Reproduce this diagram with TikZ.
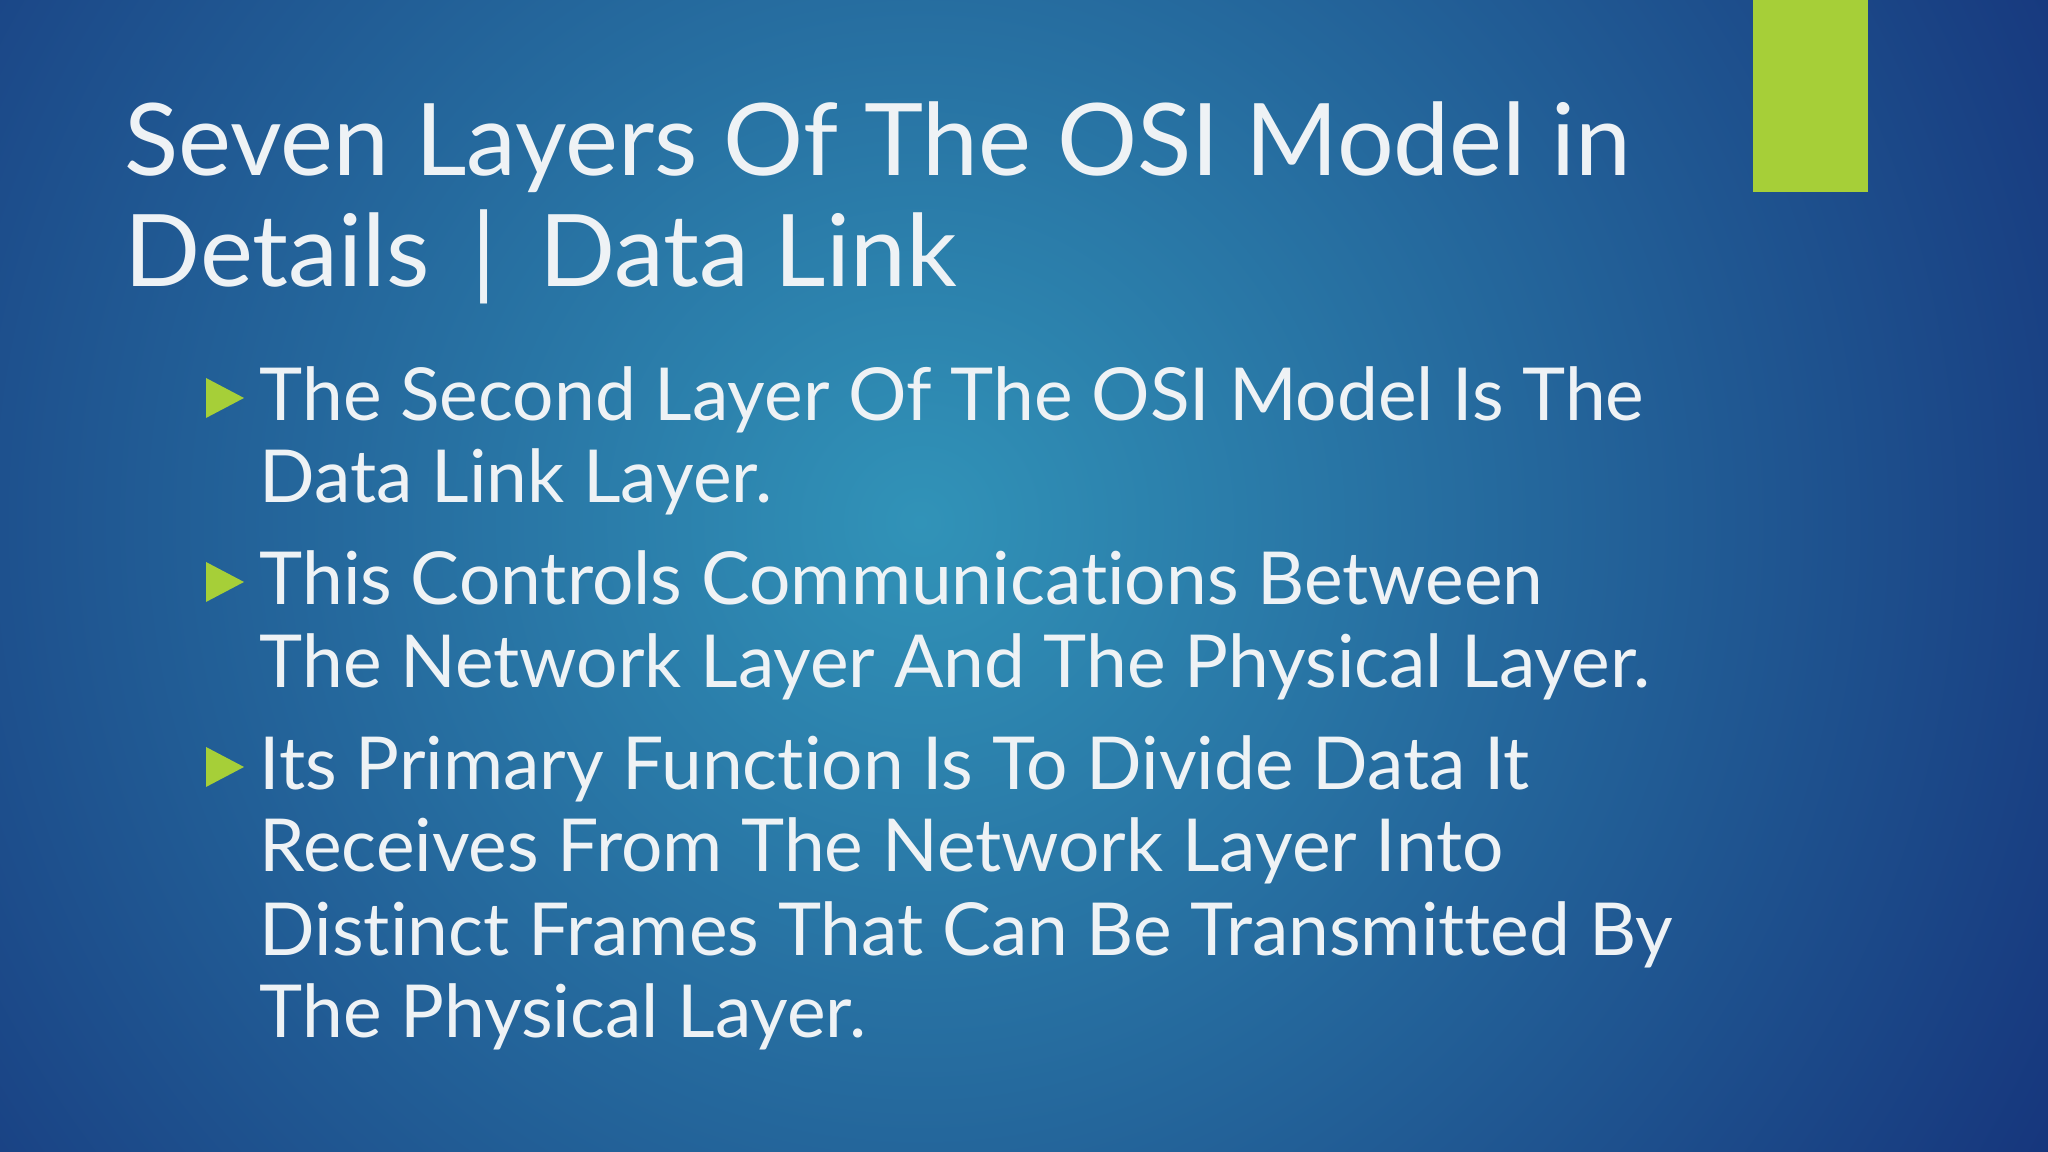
\documentclass[tikz,border=0pt]{standalone}
\usepackage{fontspec}
\setmainfont{Lato}[Ligatures={NoCommon}]
\definecolor{bgin}{HTML}{3193B8}
\definecolor{bgout}{HTML}{15327A}
\definecolor{accent}{HTML}{A6CF38}
\definecolor{txt}{HTML}{EEF2F5}
\tikzset{
  title/.style={anchor=base west,text=txt,font=\fontsize{28.5}{34}\selectfont,inner sep=0pt},
  body/.style={anchor=base west,text=txt,font=\fontsize{20.8}{25}\selectfont,inner sep=0pt},
  bul/.style={fill=accent,draw=none}
}
\begin{document}
\begin{tikzpicture}
\useasboundingbox (0,0) rectangle (20.48,11.52);
\fill[bgout] (0,0) rectangle (20.48,11.52);
\begin{scope}
\clip (0,0) rectangle (20.48,11.52);
\shade[outer color=bgout,inner color=bgin] (9.2,6.3) circle (13.5);
\end{scope}
\fill[accent] (17.53,11.52) rectangle (18.68,9.6);
\node[title] (t1) at (1.24,11.52-1.76) {Seven Layers Of The OSI Model in};
\node[title] (t2) at (1.24,11.52-2.87) {Details \,|\, Data Link};
\foreach \y in {4.21,6.05,7.90}{
  \fill[bul] (2.06,11.52-\y+0.03) -- (2.06,11.52-\y+0.43) -- (2.44,11.52-\y+0.23) -- cycle;
}
\node[body] (a1) at (2.59,11.52-4.21) {The Second Layer Of The OSI Model Is The};
\node[body] (a2) at (2.59,11.52-5.03) {Data Link Layer.};
\node[body] (b1) at (2.59,11.52-6.05) {This Controls Communications Between};
\node[body] (b2) at (2.59,11.52-6.88) {The Network Layer And The Physical Layer.};
\node[body] (c1) at (2.59,11.52-7.90) {Its Primary Function Is To Divide Data It};
\node[body] (c2) at (2.59,11.52-8.72) {Receives From The Network Layer Into};
\node[body] (c3) at (2.59,11.52-9.56) {Distinct Frames That Can Be Transmitted By};
\node[body] (c4) at (2.59,11.52-10.38) {The Physical Layer.};
\end{tikzpicture}
\end{document}
